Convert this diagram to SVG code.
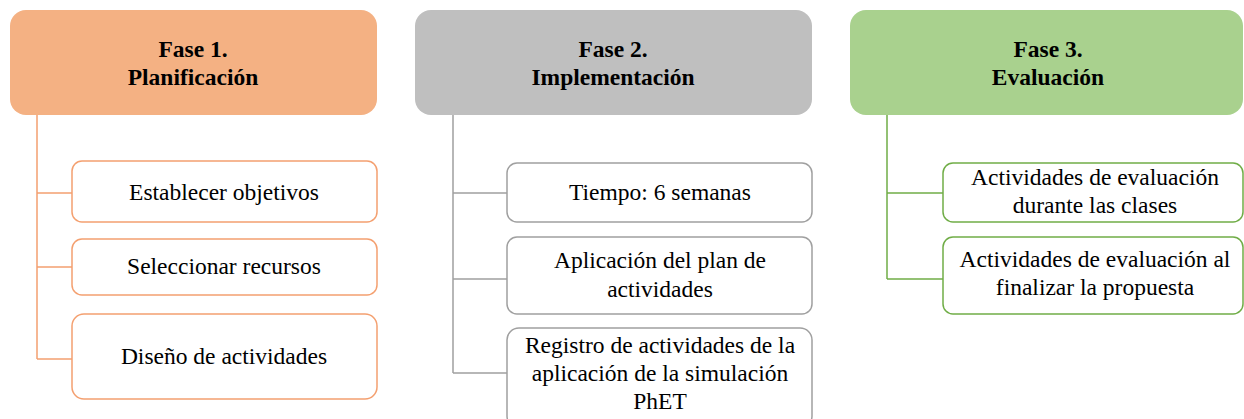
<svg xmlns="http://www.w3.org/2000/svg" width="1244" height="419" viewBox="0 0 1244 419">
<style>
.hd{font-family:"Liberation Serif","Times New Roman",serif;font-weight:bold;font-size:23.5px;fill:#000;text-anchor:middle}
.tx{font-family:"Liberation Serif","Times New Roman",serif;font-size:23.5px;fill:#000;text-anchor:middle}
.box{fill:#fff;stroke-width:1.5}
.o{stroke:#F4A070}
.g{stroke:#A0A0A0}
.gr{stroke:#70AD47}
.ln{fill:none;stroke-width:1.5}
</style>
<rect width="1244" height="419" fill="#fff"/>
<g id="connectors">
<path class="ln o" d="M37 115 V359 M37 193 H72 M37 267 H72 M37 359 H72"/>
<path class="ln g" d="M453 115 V373 M453 193 H507 M453 279 H507 M453 373 H507"/>
<path class="ln gr" d="M887 115 V279 M887 193 H943 M887 279 H943"/>
</g>
<g id="fase1">
<rect x="10" y="10" width="367" height="105" rx="16" fill="#F4B183"/>
<text class="hd" x="193" y="57">Fase 1.</text>
<text class="hd" x="193" y="85">Planificación</text>
</g>
<g id="p1a"><rect class="box o" x="72" y="161" width="305" height="61" rx="10"/><text class="tx" x="224" y="200">Establecer objetivos</text></g>
<g id="p1b"><rect class="box o" x="72" y="239" width="305" height="56" rx="10"/><text class="tx" x="224" y="274">Seleccionar recursos</text></g>
<g id="p1c"><rect class="box o" x="72" y="314" width="305" height="85" rx="12"/><text class="tx" x="224" y="364">Diseño de actividades</text></g>
<g id="fase2">
<rect x="415" y="10" width="397" height="105" rx="16" fill="#BFBFBF"/>
<text class="hd" x="613" y="57">Fase 2.</text>
<text class="hd" x="613" y="85">Implementación</text>
</g>
<g id="p2a"><rect class="box g" x="507" y="163" width="305" height="59" rx="10"/><text class="tx" x="660" y="200">Tiempo: 6 semanas</text></g>
<g id="p2b"><rect class="box g" x="507" y="237" width="305" height="77" rx="10"/><text class="tx" x="660" y="268">Aplicación del plan de</text><text class="tx" x="660" y="297">actividades</text></g>
<g id="p2c"><rect class="box g" x="507" y="328" width="305" height="100" rx="12"/><text class="tx" x="660" y="353">Registro de actividades de la</text><text class="tx" x="660" y="381">aplicación de la simulación</text><text class="tx" x="660" y="409">PhET</text></g>
<g id="fase3">
<rect x="850" y="10" width="393" height="105" rx="16" fill="#A9D18E"/>
<text class="hd" x="1048" y="57">Fase 3.</text>
<text class="hd" x="1048" y="85">Evaluación</text>
</g>
<g id="p3a"><rect class="box gr" x="943" y="163" width="300" height="59" rx="10"/><text class="tx" x="1095" y="185">Actividades de evaluación</text><text class="tx" x="1095" y="213">durante las clases</text></g>
<g id="p3b"><rect class="box gr" x="943" y="237" width="300" height="77" rx="10"/><text class="tx" x="1095" y="267">Actividades de evaluación al</text><text class="tx" x="1095" y="295">finalizar la propuesta</text></g>
</svg>
